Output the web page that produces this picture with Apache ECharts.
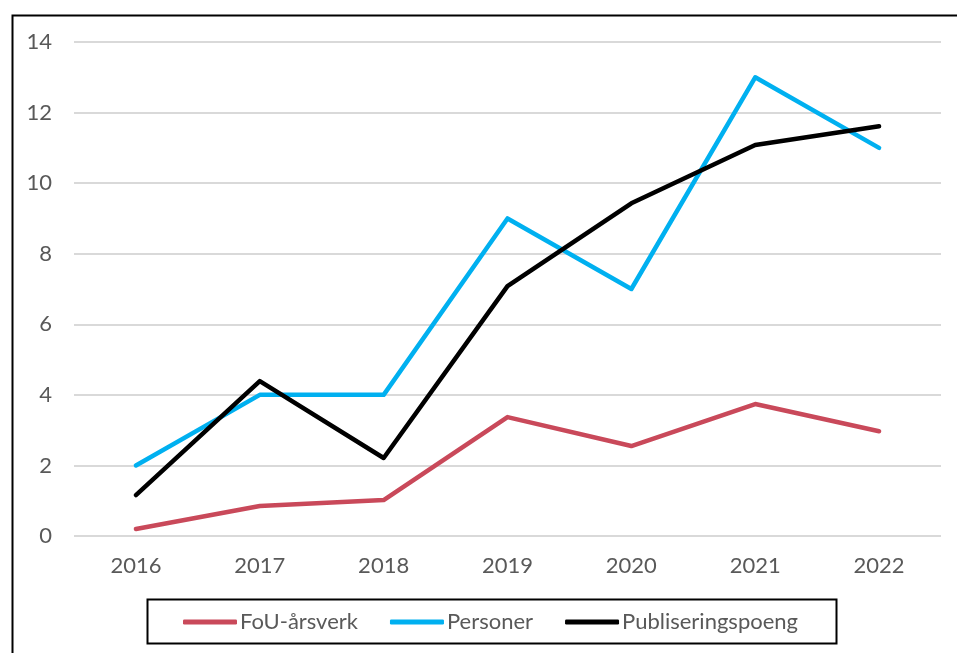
<!DOCTYPE html>
<html>
<head>
<meta charset="utf-8">
<script src="https://cdn.jsdelivr.net/npm/echarts@6/dist/echarts.min.js"></script>
<style>html,body{margin:0;padding:0;background:#fff}#c{width:957px;height:653px}</style>
</head>
<body>
<div id="c"></div>
<script>
const categories = ['2016','2017','2018','2019','2020','2021','2022'];
const fouArsverk = [0.2, 0.85, 1.02, 3.37, 2.55, 3.74, 2.97];
const personer = [2, 4, 4, 9, 7, 13, 11];
const publiseringspoeng = [1.16, 4.39, 2.21, 7.08, 9.43, 11.08, 11.61];
const seriesNames = ['FoU-årsverk', 'Personer', 'Publiseringspoeng'];
const colors = ['#C9495A', '#00B0F0', '#000000'];

const FONT = 'Lato';
const chart = echarts.init(document.getElementById('c'), null, {renderer: 'canvas'});
const mk = (name, data, color) => ({
  name, type: 'line', data, symbol: 'none', smooth: false,
  lineStyle: {color, width: 4.5, cap: 'round', join: 'round'},
  itemStyle: {color}
});
chart.setOption({
  backgroundColor: '#fff',
  animation: false,
  textStyle: {fontFamily: FONT},
  grid: {left: 74, right: 16, top: 42, bottom: 117, containLabel: false},
  xAxis: {
    type: 'category', data: categories, boundaryGap: true,
    axisLine: {show: false}, axisTick: {show: false},
    axisLabel: {color: '#595959', fontSize: 22, fontFamily: FONT, margin: 19}
  },
  yAxis: {
    type: 'value', min: 0, max: 14, interval: 2,
    axisLine: {show: false}, axisTick: {show: false},
    axisLabel: {color: '#595959', fontSize: 22, fontFamily: FONT, margin: 22},
    splitLine: {lineStyle: {color: '#D9D9D9', width: 2}}
  },
  legend: {
    data: seriesNames, left: 178, top: 606, itemWidth: 54, itemHeight: 5, itemGap: 32,
    icon: 'roundRect',
    textStyle: {color: '#595959', fontSize: 22, fontFamily: FONT, padding: [0,0,0,-2]}
  },
  graphic: [
    {type: 'rect', left: 10, top: 13, shape: {width: 1000, height: 700}, style: {fill: 'none', stroke: '#000', lineWidth: 2}, z: -1, silent: true},
    {type: 'rect', left: 145, top: 597, shape: {width: 689, height: 44}, style: {fill: 'none', stroke: '#000', lineWidth: 2}, silent: true}
  ],
  series: [
    mk(seriesNames[0], fouArsverk, colors[0]),
    mk(seriesNames[1], personer, colors[1]),
    mk(seriesNames[2], publiseringspoeng, colors[2])
  ]
});
</script>
</body>
</html>
